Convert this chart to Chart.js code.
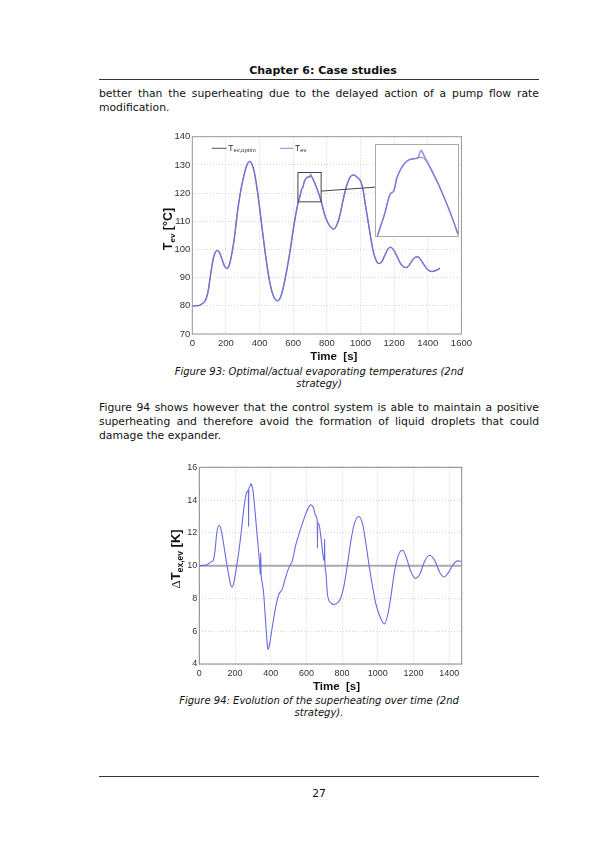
<!DOCTYPE html>
<html>
<head>
<meta charset="utf-8">
<title>Chapter 6: Case studies</title>
<script src="https://cdn.jsdelivr.net/npm/chart.js@4.4.1/dist/chart.umd.min.js"></script>
<style>
  html, body { margin: 0; padding: 0; background: #fff; }
  #page { position: relative; width: 595px; height: 842px; overflow: hidden;
          font-family: "DejaVu Sans", Verdana, sans-serif; color: #111; }
  .rule { position: absolute; left: 99px; width: 440px; height: 0; border-top: 1px solid #333; }
  .txt { position: absolute; left: 99px; width: 440px; margin: 0; }
  .body { font-size: 10.8px; line-height: 13.8px; text-align: justify; }
  .cap { font-size: 10px; line-height: 11.7px; font-style: italic; text-align: center; }
  .fig { position: absolute; }
  .fig canvas { display: block; }
  #inset { position: absolute; background: #fff; border: 1px solid #aaa; box-sizing: border-box; }
</style>
</head>
<body>
<div id="page">
  <div class="txt" style="top:64px; left:103px; font-size:11px; line-height:13px; font-weight:bold; text-align:center;">Chapter 6: Case studies</div>
  <div class="rule" style="top:79px;"></div>

  <p class="txt body" style="top:87px;">better than the superheating due to the delayed action of a pump flow rate modification.</p>

  <div class="fig" id="fig93box" style="left:155px; top:128px;">
    <canvas id="fig93" width="321" height="236"></canvas>
  </div>
  <div id="inset"><canvas id="fig93zoom"></canvas></div>

  <p class="txt cap" style="top:366px;">Figure 93: Optimal/actual evaporating temperatures (2nd<br>strategy)</p>

  <p class="txt body" style="top:401px;">Figure 94 shows however that the control system is able to maintain a positive superheating and therefore avoid the formation of liquid droplets that could damage the expander.</p>

  <div class="fig" style="left:160px; top:458px;">
    <canvas id="fig94" width="308" height="236"></canvas>
  </div>

  <p class="txt cap" style="top:695px;">Figure 94: Evolution of the superheating over time (2nd<br>strategy).</p>

  <div class="rule" style="top:776px;"></div>
  <div class="txt" style="top:787px; font-size:10.8px; line-height:13.8px; text-align:center;">27</div>
</div>

<script>
// Figure 93 : temperature d'evaporation optimale / reelle
const fig93Time = [0, 40, 60, 75, 85, 95, 105, 115, 125, 135,
  148, 160, 175, 190, 207, 220, 235, 250, 270, 290,
  310, 325, 341, 355, 370, 390, 415, 440, 460, 480,
  495, 507, 520, 535, 555, 580, 600, 620, 631, 642,
  652, 658, 663, 671, 679, 688, 698, 704, 708, 717,
  739, 766, 786, 810, 825, 840, 855, 875, 900, 920,
  940, 961, 980, 1000, 1015, 1030, 1045, 1060, 1075, 1090,
  1107, 1125, 1145, 1165, 1179, 1195, 1215, 1240, 1260, 1273,
  1290, 1310, 1325, 1341, 1360, 1380, 1400, 1415, 1429, 1450, 1472];
const fig93Actual = [80, 80.1, 80.8, 81.6, 83, 85.5, 89.5, 93.5, 96.8, 98.8,
  99.6, 99, 96.8, 94.3, 93.3, 94.5, 98.5, 104, 114, 121.5,
  127, 130, 131.2, 130.2, 127, 119.5, 107.5, 96, 88.5, 83.8,
  82.2, 81.8, 82.5, 85, 90.5, 99, 107, 114, 117, 119.3,
  121.7, 122.1, 123.5, 124.7, 125.4, 125.7, 125.8, 126.7, 126.2, 125.0,
  121.9, 117.1, 112.5, 109, 107.8, 107.2, 108.2, 111.5, 118.5, 123,
  125.8, 126.4, 125.6, 124.3, 121.2, 115.5, 110, 104.5, 99.5, 96.5,
  95, 95.5, 98, 100.3, 100.8, 100, 97.8, 94.8, 93.7, 93.6,
  94.5, 96.3, 97.2, 97.4, 96.2, 94.3, 92.8, 92.3, 92.2, 92.6, 93.3];
const fig93Optim = [80, 80.1, 80.8, 81.6, 83, 85.5, 89.5, 93.5, 96.8, 98.8,
  99.6, 99, 96.8, 94.3, 93.3, 94.5, 98.5, 104, 114, 121.5,
  127, 130, 131.2, 130.2, 127, 119.5, 107.5, 96, 88.5, 83.8,
  82.2, 81.8, 82.5, 85, 90.5, 99, 107, 114, 117, 119.3,
  121.7, 122.0, 123.5, 124.7, 125.4, 125.7, 125.8, 125.9, 125.8, 125.0,
  121.9, 117.1, 112.5, 109, 107.8, 107.2, 108.2, 111.5, 118.5, 123,
  125.8, 126.4, 125.6, 124.3, 121.2, 115.5, 110, 104.5, 99.5, 96.5,
  95, 95.5, 98, 100.3, 100.8, 100, 97.8, 94.8, 93.7, 93.6,
  94.5, 96.3, 97.2, 97.4, 96.2, 94.3, 92.8, 92.3, 92.2, 92.6, 93.3];
const fig93XTicks = [0, 200, 400, 600, 800, 1000, 1200, 1400, 1600];
const fig93YTicks = [70, 80, 90, 100, 110, 120, 130, 140];
// zone agrandie et emplacement de l'encart (unites des axes)
const fig93Zoom = { tMin: 628, tMax: 766, yMin: 116.9, yMax: 127.3 };
const fig93InsetAt = { tMin: 1087, tMax: 1584, yMin: 104.5, yMax: 137.4 };
const fig93LinkFrom = [766, 120.7];
const fig93LinkTo = [1087, 122.1];

// Figure 94 : surchauffe
const fig94Time = [0, 41, 60, 79, 88, 98, 109, 118, 126, 145,
  164, 180, 186, 195, 211, 229, 248, 263, 271, 275,
  276, 277, 282, 289, 293, 301, 314, 327, 338, 342,
  344, 346, 352, 361, 370, 380, 385, 395, 408, 427,
  445, 464, 483, 502, 521, 539, 564, 586, 605, 624,
  639, 652, 661, 662, 663, 671, 684, 695, 701, 702,
  703, 709, 718, 737, 755, 774, 793, 812, 830, 849,
  868, 893, 915, 934, 953, 972, 990, 1019, 1038, 1056,
  1075, 1094, 1117, 1139, 1160, 1184, 1211, 1235, 1263, 1291,
  1320, 1348, 1372, 1395, 1423, 1447, 1470];
const fig94Superheat = [10.0, 10.03, 10.2, 10.35, 10.9, 12.0, 12.45, 12.35, 12.0, 10.7,
  9.47, 8.72, 8.7, 9.06, 10.08, 11.5, 13.35, 14.4, 14.57, 14.6,
  12.4, 14.65, 14.8, 15.0, 14.95, 14.57, 13.1, 11.5, 10.1, 9.47,
  10.8, 9.6, 9.0, 8.24, 6.8, 5.3, 4.88, 5.3, 6.2, 7.43,
  8.24, 8.55, 9.27, 9.88, 10.29, 11.2, 12.12, 12.84, 13.39, 13.71,
  13.55, 13.04, 12.7, 11.06, 12.6, 12.5, 11.5, 10.5, 10.3, 11.6,
  10.4, 9.6, 8.24, 7.73, 7.63, 7.73, 8.04, 8.86, 10.08, 11.5,
  12.53, 13.0, 12.53, 11.3, 9.88, 8.65, 7.63, 6.71, 6.45, 7.02,
  8.24, 9.67, 10.69, 10.94, 10.49, 9.67, 9.22, 9.47, 10.29, 10.63,
  10.29, 9.57, 9.31, 9.57, 10.08, 10.29, 10.25];
const fig94SetTime = [0, 1470];
const fig94Setpoint = [10, 10];
const fig94XTicks = [0, 200, 400, 600, 800, 1000, 1200, 1400];
const fig94YTicks = [4, 6, 8, 10, 12, 14, 16];

Chart.defaults.font.family = '"Liberation Sans", Arial, sans-serif';
Chart.defaults.color = '#333';

function pts(xs, ys) {
  return xs.map((x, i) => ({ x: x, y: ys[i] }));
}

// texte avec indices : [texte, taille, decalage, famille]
function drawParts(ctx, parts, x, y) {
  const fontOf = p => (p[3] === 'serif' ? '' : 'bold ') + p[1] + 'px ' +
    (p[3] === 'serif' ? '"Liberation Serif", serif' : '"Liberation Sans", Arial, sans-serif');
  let w = 0;
  parts.forEach(p => { ctx.font = fontOf(p); w += ctx.measureText(p[0]).width; });
  let cx = x - w / 2;
  parts.forEach(p => {
    ctx.font = fontOf(p);
    ctx.fillText(p[0], cx, y + (p[2] || 0));
    cx += ctx.measureText(p[0]).width;
  });
}

function decor(o) {
  return {
    id: 'decor',
    afterDraw(chart) {
      const ctx = chart.ctx, a = chart.chartArea;
      ctx.save();
      ctx.strokeStyle = o.frame;
      ctx.lineWidth = 1;
      ctx.strokeRect(a.left, a.top, a.right - a.left, a.bottom - a.top);
      ctx.fillStyle = '#111';
      ctx.textAlign = 'center';
      ctx.textBaseline = 'middle';
      ctx.font = 'bold 11.5px "Liberation Sans", Arial, sans-serif';
      ctx.fillText('Time  [s]', (a.left + a.right) / 2 + o.xTitleDx, a.bottom + 22.7);
      ctx.textAlign = 'left';
      ctx.textBaseline = 'alphabetic';
      ctx.translate(o.yTitleX, o.yTitleY);
      ctx.rotate(-Math.PI / 2);
      drawParts(ctx, o.yTitle, 0, 0);
      ctx.restore();
      if (o.extra) o.extra(chart);
    }
  };
}

function axes(o) {
  return {
    x: {
      type: 'linear', min: o.xMin, max: o.xMax,
      afterBuildTicks: s => { s.ticks = o.xTicks.map(v => ({ value: v })); },
      afterFit: s => { s.height = 30; },
      grid: { color: '#d2d2d2', drawTicks: false },
      border: { display: false, dash: [1, 2] },
      ticks: { padding: o.xPad, maxRotation: 0, font: { size: o.tickSize }, callback: v => String(v) }
    },
    y: {
      type: 'linear', min: o.yMin, max: o.yMax,
      afterBuildTicks: s => { s.ticks = o.yTicks.map(v => ({ value: v })); },
      afterFit: s => { s.width = o.yWidth; },
      grid: { color: '#d2d2d2', drawTicks: false },
      border: { display: false, dash: [1, 2] },
      ticks: { padding: 2, font: { size: o.tickSize }, callback: v => String(v) }
    }
  };
}

// ---- Figure 93
const chart93 = new Chart(document.getElementById('fig93'), {
  type: 'line',
  data: {
    datasets: [
      { label: 'Tev', data: pts(fig93Time, fig93Actual), borderColor: 'rgba(120,120,230,0.8)',
        borderWidth: 1.6, pointRadius: 0, cubicInterpolationMode: 'monotone' },
      { label: 'Tev,optim', data: pts(fig93Time, fig93Optim), borderColor: '#444',
        borderWidth: 1, pointRadius: 0, cubicInterpolationMode: 'monotone' }
    ]
  },
  options: {
    responsive: false, animation: false,
    layout: { padding: { left: 0, right: 10, top: 8.7, bottom: 0 } },
    plugins: { legend: { display: false }, tooltip: { enabled: false } },
    scales: axes({ xMin: 0, xMax: 1600, yMin: 70, yMax: 140, xTicks: fig93XTicks, yTicks: fig93YTicks,
                   tickSize: 9.5, xPad: 4, yWidth: 37.3 })
  },
  plugins: [decor({
    frame: '#999', xTitleDx: 7, yTitleX: 16.5, yTitleY: 101,
    yTitle: [['T', 12.5, 0], ['ev', 8, 3], [' [°C]', 12.5, 0]],
    extra(chart) {
      const ctx = chart.ctx, sx = chart.scales.x, sy = chart.scales.y, a = chart.chartArea;
      ctx.save();
      ctx.strokeStyle = '#444';
      ctx.lineWidth = 1;
      const x0 = sx.getPixelForValue(fig93Zoom.tMin), x1 = sx.getPixelForValue(fig93Zoom.tMax);
      const y0 = sy.getPixelForValue(fig93Zoom.yMax), y1 = sy.getPixelForValue(fig93Zoom.yMin);
      ctx.strokeRect(x0, y0, x1 - x0, y1 - y0);
      ctx.beginPath();
      ctx.moveTo(sx.getPixelForValue(fig93LinkFrom[0]), sy.getPixelForValue(fig93LinkFrom[1]));
      ctx.lineTo(sx.getPixelForValue(fig93LinkTo[0]), sy.getPixelForValue(fig93LinkTo[1]));
      ctx.stroke();
      // legende
      const ly = a.top + 11.6;
      ctx.beginPath();
      ctx.strokeStyle = '#555';
      ctx.moveTo(a.left + 19.4, ly); ctx.lineTo(a.left + 34.4, ly); ctx.stroke();
      ctx.beginPath();
      ctx.strokeStyle = 'rgba(120,120,230,0.9)';
      ctx.moveTo(a.left + 87.7, ly); ctx.lineTo(a.left + 101, ly); ctx.stroke();
      ctx.fillStyle = '#333';
      ctx.textBaseline = 'middle';
      ctx.font = '8.5px "Liberation Sans", Arial, sans-serif';
      ctx.fillText('T', a.left + 36, ly);
      ctx.fillText('T', a.left + 102.7, ly);
      ctx.font = '6px "Liberation Sans", Arial, sans-serif';
      ctx.fillText('ev,optim', a.left + 41.2, ly + 2.5);
      ctx.fillText('ev', a.left + 107.9, ly + 2.5);
      ctx.restore();
    }
  })]
});

// encart agrandi, place avec les echelles du graphique principal
(function () {
  const sx = chart93.scales.x, sy = chart93.scales.y;
  const L = sx.getPixelForValue(fig93InsetAt.tMin), R = sx.getPixelForValue(fig93InsetAt.tMax);
  const T = sy.getPixelForValue(fig93InsetAt.yMax), B = sy.getPixelForValue(fig93InsetAt.yMin);
  const box = document.getElementById('inset');
  box.style.left = (155 + L) + 'px';
  box.style.top = (128 + T) + 'px';
  box.style.width = (R - L) + 'px';
  box.style.height = (B - T) + 'px';
  const cv = document.getElementById('fig93zoom');
  cv.width = Math.round(R - L - 2);
  cv.height = Math.round(B - T - 2);
  new Chart(cv, {
    type: 'line',
    data: {
      datasets: [
        { data: pts(fig93Time, fig93Actual), borderColor: 'rgba(120,120,230,0.8)', borderWidth: 1.6,
          pointRadius: 0, cubicInterpolationMode: 'monotone' },
        { data: pts(fig93Time, fig93Optim), borderColor: '#555', borderWidth: 0.8,
          pointRadius: 0, cubicInterpolationMode: 'monotone' }
      ]
    },
    options: {
      responsive: false, animation: false,
      layout: { padding: 0 },
      plugins: { legend: { display: false }, tooltip: { enabled: false } },
      scales: {
        x: { type: 'linear', display: false, min: fig93Zoom.tMin, max: fig93Zoom.tMax },
        y: { type: 'linear', display: false, min: fig93Zoom.yMin, max: fig93Zoom.yMax }
      }
    }
  });
})();

// ---- Figure 94
new Chart(document.getElementById('fig94'), {
  type: 'line',
  data: {
    datasets: [
      { data: pts(fig94Time, fig94Superheat), borderColor: '#6a6ae0', borderWidth: 1.1,
        pointRadius: 0, cubicInterpolationMode: 'monotone' },
      { data: pts(fig94SetTime, fig94Setpoint), borderColor: '#aaa', borderWidth: 2,
        pointRadius: 0 }
    ]
  },
  options: {
    responsive: false, animation: false,
    layout: { padding: { left: 0, right: 6.3, top: 9.3, bottom: 0 } },
    plugins: { legend: { display: false }, tooltip: { enabled: false } },
    scales: axes({ xMin: 0, xMax: 1470, yMin: 4, yMax: 16, xTicks: fig94XTicks, yTicks: fig94YTicks,
                   tickSize: 9, xPad: 4.5, yWidth: 39.3 })
  },
  plugins: [decor({
    frame: '#888', xTitleDx: 6, yTitleX: 19.5, yTitleY: 101,
    yTitle: [['Δ', 13, 0, 'serif'], ['T', 13, 0], ['ex,ev', 8.5, 3], [' [K]', 13, 0]]
  })]
});
</script>
</body>
</html>
